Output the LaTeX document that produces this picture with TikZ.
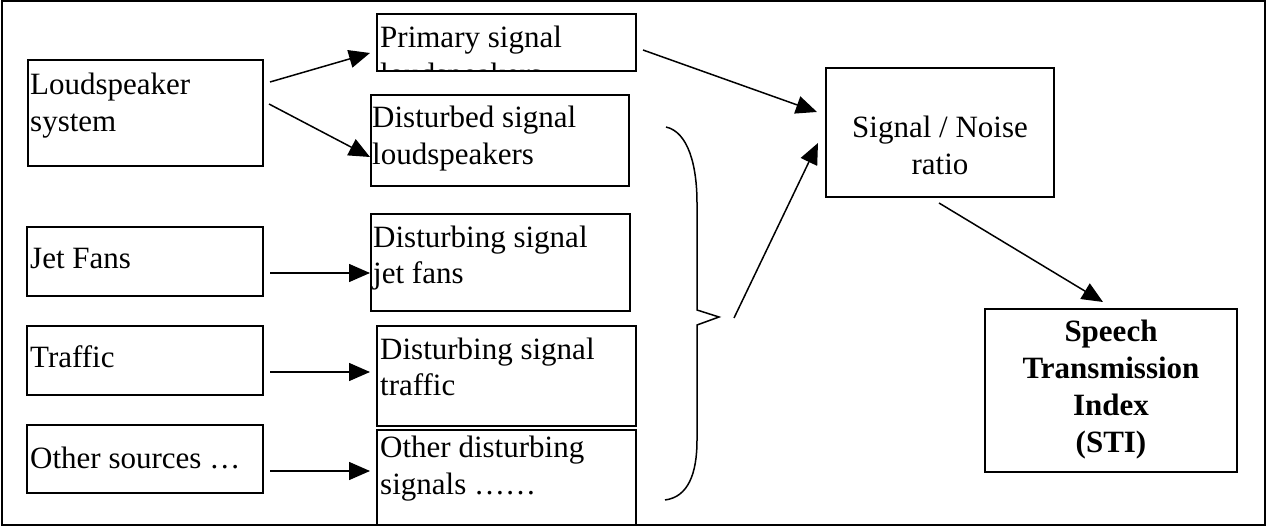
\documentclass[tikz,border=0pt]{standalone}
\usepackage{fontspec}
\setmainfont{Liberation Serif}
\usetikzlibrary{arrows.meta,calc}
\begin{document}
\begin{tikzpicture}[x=1pt,y=-1pt,
  box/.style={draw, line width=1.8pt, inner sep=0pt, outer sep=0pt, anchor=north west, rectangle},
  txt/.style={anchor=base west, inner sep=0pt, font=\fontsize{31}{37}\selectfont},
  ctxt/.style={anchor=base, inner sep=0pt, font=\fontsize{31}{37}\selectfont},
  btxt/.style={anchor=base, inner sep=0pt, font=\fontsize{31}{37}\selectfont\bfseries},
  arr/.style={-{Triangle[length=21pt,width=18pt]}, line width=1.5pt},
  bracepath/.style={line width=1.5pt}]
\useasboundingbox (0,0) rectangle (1267,526);
% outer frame
\draw[line width=2pt] (1.5,1.5) rectangle (1265,525);

% left source boxes
\node[box, minimum width=235pt, minimum height=106pt] (ls) at (28,60) {};
\node[box, minimum width=236pt, minimum height=69pt] (jet) at (27,227) {};
\node[box, minimum width=236pt, minimum height=69pt] (tra) at (27,326) {};
\node[box, minimum width=236pt, minimum height=68pt] (oth) at (27,425) {};

\node[txt] (tls1) at (30,95) {Loudspeaker};
\node[txt] (tls2) at (30,132) {system};
\node[txt] (tjet) at (30,269) {Jet Fans};
\node[txt] (ttra) at (30,368) {Traffic};
\node[txt] (toth) at (30,468) {Other sources …};

% middle signal boxes
\node[box, minimum width=259pt, minimum height=57pt] (prim) at (377,14) {};
\node[box, minimum width=258pt, minimum height=91pt] (dist) at (371,95) {};
\node[box, minimum width=259pt, minimum height=97pt] (djet) at (371,214) {};
\node[box, minimum width=259pt, minimum height=100pt] (dtra) at (377,326) {};
\node[box, minimum width=259pt, minimum height=102pt] (doth) at (377,430) {};

\node[txt] (tprim1) at (380,48) {Primary signal};
\begin{scope}
  \clip (prim.north west) rectangle (prim.south east);
  \node[txt] (tprim2) at (380,85) {loudspeakers};
\end{scope}
\node[txt] (tdist1) at (372,128) {Disturbed signal};
\node[txt] (tdist2) at (372,165) {loudspeakers};
\node[txt] (tdjet1) at (373,248) {Disturbing signal};
\node[txt] (tdjet2) at (373,284) {jet fans};
\node[txt] (tdtra1) at (380,360) {Disturbing signal};
\node[txt] (tdtra2) at (380,396) {traffic};
\node[txt] (tdoth1) at (380,458) {Other disturbing};
\node[txt] (tdoth2) at (380,495) {signals ……};

% brace
\draw[bracepath] (666,127) .. controls (688,132) and (697,165) .. (697,203)
  -- (697,310) -- (719,317) -- (697,325) -- (697,440)
  .. controls (697,474) and (688,497) .. (665,500);
\coordinate (brtip) at (719,317);

% right boxes
\node[box, minimum width=228pt, minimum height=129pt] (sn) at (826,68) {};
\node[ctxt] (tsn1) at (940,138) {Signal / Noise};
\node[ctxt] (tsn2) at (940,175) {ratio};

\node[box, minimum width=252pt, minimum height=163pt] (sti) at (985,309) {};
\node[btxt] (tsti1) at (1111,342) {Speech};
\node[btxt] (tsti2) at (1111,379) {Transmission};
\node[btxt] (tsti3) at (1111,416) {Index};
\node[btxt] (tsti4) at (1111,453) {(STI)};

% arrows
\draw[arr] ($(ls.east)+(7,-31)$) -- ($(prim.west)+(-7,10.5)$);
\draw[arr] ($(ls.east)+(6,-9)$) -- ($(dist.west)+(-1,16.5)$);
\draw[arr] ($(jet.east)+(7,11.5)$) -- ($(djet.west)+(-1,10.5)$);
\draw[arr] ($(tra.east)+(7,11.5)$) -- ($(dtra.west)+(-7,-4)$);
\draw[arr] ($(oth.east)+(7,12)$) -- ($(doth.west)+(-7,-10)$);
\draw[arr] ($(prim.east)+(7,7.5)$) -- ($(sn.west)+(-9,-20.5)$);
\draw[arr] ($(brtip)+(15,1)$) -- ($(sn.west)+(-8,10.5)$);
\draw[arr] ($(sn.south)+(-1,6)$) -- ($(sti.north)+(-8,-7)$);
\end{tikzpicture}
\end{document}
